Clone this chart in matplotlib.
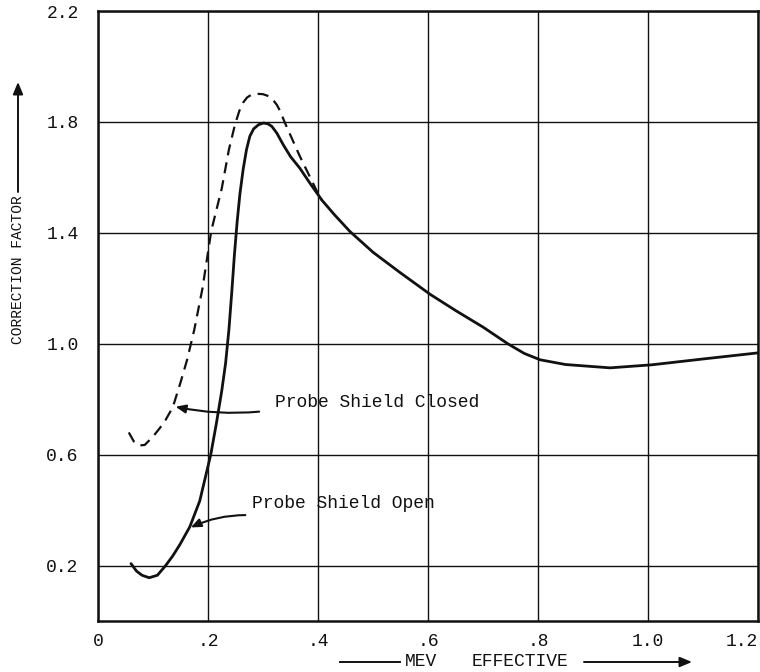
import matplotlib
matplotlib.use("Agg")
import matplotlib.pyplot as plt
from matplotlib.patches import FancyArrowPatch
from matplotlib.lines import Line2D

# values (MeV effective vs correction factor)
open_mev = [0.06, 0.07, 0.08, 0.093, 0.108, 0.123, 0.136, 0.149, 0.167, 0.185, 0.205,
            0.215, 0.225, 0.232, 0.238, 0.243, 0.248, 0.253, 0.258, 0.264, 0.27,
            0.276, 0.283, 0.292, 0.301, 0.309, 0.316, 0.325, 0.337, 0.35, 0.367, 0.385,
            0.407, 0.43, 0.458, 0.5, 0.549, 0.604, 0.65, 0.7, 0.745, 0.775, 0.804,
            0.85, 0.931, 1.007, 1.1, 1.2]
open_factor = [0.207, 0.18, 0.165, 0.156, 0.165, 0.2, 0.235, 0.276, 0.34, 0.433, 0.6,
               0.71, 0.83, 0.93, 1.05, 1.18, 1.32, 1.44, 1.54, 1.63, 1.70,
               1.748, 1.775, 1.79, 1.796, 1.793, 1.784, 1.76, 1.717, 1.675, 1.633, 1.58,
               1.518, 1.465, 1.405, 1.33, 1.257, 1.178, 1.12, 1.06, 1.0, 0.965, 0.942,
               0.925, 0.913, 0.924, 0.945, 0.967]

closed_mev = [0.056, 0.065, 0.075, 0.085, 0.1, 0.12, 0.136, 0.15, 0.162, 0.175, 0.19,
              0.206, 0.225, 0.238, 0.249, 0.257, 0.264, 0.271, 0.278, 0.285, 0.292,
              0.3, 0.31, 0.318, 0.325, 0.331, 0.34, 0.367, 0.398, 0.407]
closed_factor = [0.68, 0.648, 0.633, 0.635, 0.665, 0.715, 0.771, 0.86, 0.942, 1.05, 1.2,
                 1.408, 1.56, 1.7, 1.79, 1.84, 1.87, 1.888, 1.897, 1.9, 1.901,
                 1.9, 1.893, 1.88, 1.862, 1.84, 1.796, 1.676, 1.55, 1.518]

x_ticks = [0, 0.2, 0.4, 0.6, 0.8, 1.0, 1.2]
x_ticklabels = ['0', '.2', '.4', '.6', '.8', '1.0', '1.2']
y_ticks = [0.2, 0.6, 1.0, 1.4, 1.8, 2.2]
y_ticklabels = ['0.2', '0.6', '1.0', '1.4', '1.8', '2.2']

MONO = 'Liberation Mono'
INK = '#111111'
HEAD = '-|>,head_length=0.6,head_width=0.25'


def fig_xy(px, py):
    """pixel position on the 760x672 canvas -> figure fraction"""
    return px / 760, 1 - py / 672


def fig_arrow(fig, start, end, lw=1.4):
    fig.add_artist(FancyArrowPatch(fig_xy(*start), fig_xy(*end),
                                   transform=fig.transFigure, arrowstyle=HEAD,
                                   mutation_scale=12, color=INK, lw=lw,
                                   shrinkA=0, shrinkB=0))


def main():
    fig = plt.figure(figsize=(7.6, 6.72), dpi=100)
    ax = fig.add_axes([98 / 760, 1 - 621 / 672, 660 / 760, 610 / 672])

    ax.plot(open_mev, open_factor, color=INK, lw=2.0, solid_capstyle='round',
            solid_joinstyle='round')
    ax.plot(closed_mev, closed_factor, color=INK, lw=1.6, linestyle=(0, (5, 3.2)))

    ax.set_xlim(0, 1.2)
    ax.set_ylim(0, 2.2)
    ax.set_xticks(x_ticks)
    ax.set_xticklabels(x_ticklabels, family=MONO, fontsize=13)
    ax.get_xticklabels()[-1].set_ha('right')
    ax.set_yticks(y_ticks)
    ax.set_yticklabels(y_ticklabels, family=MONO, fontsize=13)
    ax.tick_params(length=0, colors=INK)
    ax.tick_params(axis='x', pad=9)
    ax.tick_params(axis='y', pad=14)
    ax.grid(True, color=INK, lw=1.0)
    ax.set_axisbelow(True)
    for sp in ax.spines.values():
        sp.set_linewidth(1.8)
        sp.set_color(INK)

    # curve labels with hand-drawn style arrows
    ax.annotate('', xy=(0.136, 0.775), xytext=(0.298, 0.756),
                arrowprops=dict(arrowstyle=HEAD, color=INK, lw=1.5,
                                connectionstyle='arc3,rad=-0.08'))
    ax.text(0.322, 0.789, 'Probe Shield Closed', family=MONO, fontsize=13,
            va='center', ha='left', color=INK)
    ax.annotate('', xy=(0.164, 0.333), xytext=(0.273, 0.382),
                arrowprops=dict(arrowstyle=HEAD, color=INK, lw=1.5,
                                connectionstyle='arc3,rad=0.12'))
    ax.text(0.28, 0.422, 'Probe Shield Open', family=MONO, fontsize=13,
            va='center', ha='left', color=INK)

    # axis titles with their typed arrows
    fig.text(*fig_xy(18, 270), 'CORRECTION FACTOR', rotation=90, family=MONO,
             fontsize=10.5, ha='center', va='center', color=INK)
    fig_arrow(fig, (18, 192), (18, 82))

    fig.text(*fig_xy(421, 662), 'MEV', family=MONO, fontsize=13,
             ha='center', va='center', color=INK)
    fig.text(*fig_xy(520, 662), 'EFFECTIVE', family=MONO, fontsize=13,
             ha='center', va='center', color=INK)
    fig.add_artist(Line2D([340 / 760, 400 / 760], [1 - 662 / 672] * 2,
                          transform=fig.transFigure, color=INK, lw=1.4))
    fig_arrow(fig, (584, 662), (692, 662))

    fig.savefig('out.png', dpi=100)


if __name__ == "__main__":
    main()
